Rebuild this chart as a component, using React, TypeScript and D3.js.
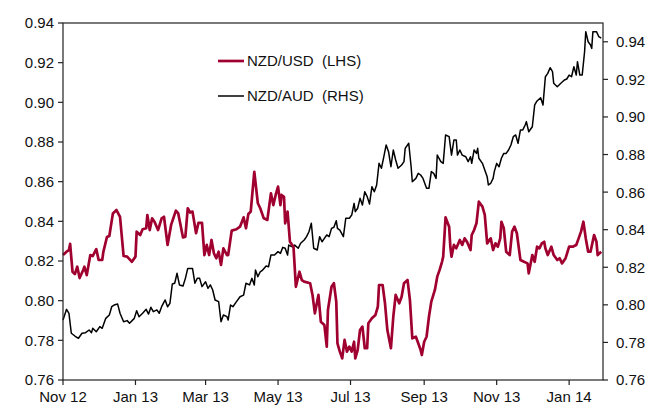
import React from "react";
import * as d3 from "d3";

// Days counted from 1 Nov 2012
const startDate = new Date(2012, 10, 1);
const endDay = 454.5;

const nzdUsd: [number, number][] = [
  [0, 0.823], [3, 0.8247], [5, 0.8255], [6, 0.8286], [8, 0.8146], [10, 0.8134], [12, 0.8171], [14, 0.8114],
  [17, 0.8155], [18, 0.8171], [20, 0.8129], [23, 0.823], [25, 0.8225], [28, 0.826], [30, 0.8205], [33, 0.8205],
  [34, 0.8247], [37, 0.8321], [39, 0.8326], [42, 0.844], [45, 0.8457], [48, 0.8423], [51, 0.8225], [54, 0.8222],
  [58, 0.8196], [61, 0.8222], [62, 0.8348], [65, 0.8331], [67, 0.836], [70, 0.8365], [71, 0.8432], [73, 0.8356],
  [75, 0.8415], [77, 0.8398], [80, 0.8356], [83, 0.8415], [85, 0.8423], [88, 0.8281], [91, 0.8382], [95, 0.8454],
  [97, 0.844], [101, 0.8319], [103, 0.8323], [105, 0.8466], [107, 0.8444], [109, 0.8449], [112, 0.834], [114, 0.8392],
  [117, 0.8392], [119, 0.823], [121, 0.8281], [123, 0.823], [125, 0.8306], [127, 0.8239], [129, 0.8214], [131, 0.8247],
  [133, 0.818], [135, 0.8264], [138, 0.823], [139, 0.823], [142, 0.8353], [146, 0.836], [149, 0.8373], [152, 0.842],
  [154, 0.8365], [156, 0.8437], [158, 0.8449], [161, 0.865], [164, 0.8491], [166, 0.8466], [169, 0.8415], [172, 0.8407],
  [175, 0.8541], [177, 0.8482], [179, 0.8533], [181, 0.8575], [183, 0.8482], [184, 0.8533], [186, 0.8524], [187, 0.839],
  [189, 0.8449], [191, 0.8297], [194, 0.8272], [196, 0.807], [199, 0.8146], [201, 0.8104], [203, 0.8096], [208, 0.8088],
  [210, 0.8029], [212, 0.7936], [215, 0.8029], [217, 0.7894], [220, 0.7877], [222, 0.7768], [223, 0.7953], [226, 0.807],
  [228, 0.8088], [230, 0.7995], [231, 0.7785], [233, 0.7743], [235, 0.7709], [237, 0.7802], [239, 0.7743], [241, 0.7768],
  [243, 0.7743], [245, 0.7793], [246, 0.7709], [248, 0.7751], [250, 0.7852], [252, 0.7869], [254, 0.776], [256, 0.776],
  [257, 0.7886], [260, 0.7911], [263, 0.7928], [265, 0.797], [266, 0.8079], [269, 0.8079], [271, 0.7987], [273, 0.7852],
  [276, 0.776], [278, 0.7919], [280, 0.8029], [283, 0.7987], [285, 0.802], [287, 0.8088], [290, 0.8104], [292, 0.8003],
  [294, 0.781], [297, 0.7818], [299, 0.7785], [301, 0.7751], [302, 0.7726], [304, 0.7793], [306, 0.7818], [308, 0.7919],
  [310, 0.7995], [313, 0.8054], [315, 0.8121], [317, 0.8155], [319, 0.8196], [320, 0.8222], [322, 0.842], [325, 0.8373],
  [326, 0.8272], [327, 0.8222], [329, 0.8281], [331, 0.8264], [334, 0.8306], [336, 0.8281], [338, 0.8314], [340, 0.8297],
  [343, 0.8255], [344, 0.8331], [346, 0.8356], [348, 0.839], [350, 0.8499], [353, 0.8474], [355, 0.8432], [357, 0.8289],
  [360, 0.8314], [362, 0.8255], [364, 0.8289], [366, 0.8272], [368, 0.8314], [369, 0.8398], [371, 0.8365], [373, 0.8247],
  [376, 0.823], [378, 0.8348], [380, 0.8373], [382, 0.834], [385, 0.8205], [388, 0.8196], [391, 0.8188], [392, 0.8138],
  [395, 0.823], [397, 0.8196], [399, 0.8272], [401, 0.8264], [403, 0.8289], [405, 0.8297], [406, 0.8264], [408, 0.823],
  [411, 0.8272], [413, 0.823], [416, 0.8205], [418, 0.8214], [420, 0.8188], [423, 0.8214], [426, 0.8272], [429, 0.8272],
  [432, 0.8281], [434, 0.8314], [436, 0.8348], [438, 0.8398], [440, 0.8314], [442, 0.8247], [444, 0.8247], [447, 0.8331],
  [449, 0.8297], [450, 0.823], [453, 0.8247],
];

const nzdAud: [number, number][] = [
  [0, 0.7919], [3, 0.7976], [5, 0.7955], [7, 0.7849], [10, 0.7834], [13, 0.7822], [16, 0.7849], [19, 0.7852],
  [22, 0.7866], [24, 0.7852], [25, 0.7875], [28, 0.7857], [31, 0.7884], [33, 0.7875], [36, 0.7928], [39, 0.7946],
  [41, 0.799], [43, 0.7999], [46, 0.8004], [48, 0.7955], [51, 0.791], [54, 0.7916], [56, 0.7902], [60, 0.7928],
  [62, 0.7969], [64, 0.7937], [67, 0.7955], [70, 0.7976], [72, 0.7951], [74, 0.7987], [76, 0.7964], [79, 0.7973],
  [81, 0.7955], [83, 0.799], [86, 0.8026], [88, 0.799], [90, 0.8008], [92, 0.8111], [94, 0.8115], [96, 0.8168],
  [98, 0.8106], [101, 0.81], [103, 0.8141], [105, 0.8194], [109, 0.8194], [111, 0.8115], [113, 0.8141], [115, 0.8141],
  [117, 0.8097], [120, 0.8123], [122, 0.8088], [124, 0.8106], [126, 0.8079], [128, 0.8026], [131, 0.8017], [133, 0.791],
  [135, 0.7946], [138, 0.7937], [139, 0.7919], [141, 0.7999], [143, 0.799], [146, 0.8017], [149, 0.8043], [152, 0.8052],
  [154, 0.8115], [157, 0.8106], [159, 0.8141], [161, 0.8106], [162, 0.8185], [164, 0.815], [166, 0.8176], [168, 0.8185],
  [171, 0.8207], [173, 0.8203], [175, 0.8265], [178, 0.8265], [181, 0.8283], [183, 0.8274], [185, 0.8306], [187, 0.8301],
  [189, 0.8265], [190, 0.8318], [193, 0.8309], [195, 0.8318], [198, 0.8301], [200, 0.8328], [203, 0.8345], [205, 0.8363],
  [207, 0.8389], [209, 0.8434], [211, 0.8301], [214, 0.8292], [216, 0.8363], [218, 0.8336], [220, 0.8354], [222, 0.8372],
  [224, 0.8363], [226, 0.8407], [228, 0.8413], [230, 0.8448], [231, 0.8407], [233, 0.8398], [236, 0.8363], [238, 0.8461],
  [241, 0.8461], [243, 0.8478], [245, 0.854], [246, 0.8496], [248, 0.8514], [250, 0.8567], [252, 0.8531], [254, 0.8602],
  [256, 0.8576], [258, 0.8537], [260, 0.8629], [262, 0.8602], [264, 0.8638], [266, 0.8753], [268, 0.8727], [270, 0.8788],
  [272, 0.8851], [274, 0.8815], [276, 0.8735], [278, 0.8824], [280, 0.8771], [282, 0.8727], [285, 0.8744], [287, 0.8762],
  [288, 0.8833], [291, 0.886], [293, 0.8735], [294, 0.8655], [297, 0.8673], [299, 0.87], [301, 0.8691], [303, 0.8673],
  [306, 0.862], [308, 0.862], [310, 0.8709], [312, 0.87], [314, 0.8673], [315, 0.8797], [318, 0.8762], [320, 0.8753],
  [322, 0.8904], [325, 0.8895], [327, 0.8797], [329, 0.8877], [331, 0.8877], [332, 0.8797], [334, 0.8824], [336, 0.8797],
  [339, 0.8788], [341, 0.8762], [343, 0.8788], [344, 0.8753], [346, 0.8824], [348, 0.8806], [349, 0.8833], [350, 0.878],
  [353, 0.8753], [355, 0.8718], [357, 0.8682], [358, 0.8638], [360, 0.8647], [362, 0.8673], [363, 0.8709], [365, 0.8753],
  [367, 0.8735], [369, 0.878], [371, 0.8806], [373, 0.8806], [375, 0.8824], [377, 0.8851], [379, 0.8895], [381, 0.8904],
  [383, 0.886], [385, 0.8931], [387, 0.8931], [389, 0.8957], [390, 0.8975], [392, 0.8921], [395, 0.8948], [397, 0.9064],
  [399, 0.9085], [402, 0.9102], [404, 0.9064], [406, 0.9214], [408, 0.9232], [410, 0.9262], [412, 0.9241], [413, 0.9179],
  [416, 0.9161], [419, 0.9179], [422, 0.9197], [424, 0.9202], [426, 0.9223], [428, 0.9214], [430, 0.9267], [432, 0.9223],
  [433, 0.9294], [435, 0.9223], [437, 0.9223], [439, 0.9347], [440, 0.9454], [442, 0.94], [444, 0.9383], [445, 0.9365],
  [446, 0.9454], [449, 0.9454], [451, 0.9427], [453, 0.9419],
];

const leftTicks = [0.76, 0.78, 0.8, 0.82, 0.84, 0.86, 0.88, 0.9, 0.92, 0.94];
const rightTicks = [0.76, 0.78, 0.8, 0.82, 0.84, 0.86, 0.88, 0.9, 0.92, 0.94];
const xTickMonths = ["2012-11", "2013-01", "2013-03", "2013-05", "2013-07", "2013-09", "2013-11", "2014-01"];
const seriesNames = ["NZD/USD  (LHS)", "NZD/AUD  (RHS)"];

const W = 651;
const H = 406;
const M = { left: 63, right: 48, top: 23, bottom: 26 };
const RED = "#A0002F";
const FONT = "'Liberation Sans', Arial, sans-serif";

export default function App() {
  const x = d3
    .scaleTime()
    .domain([startDate, d3.timeHour.offset(startDate, endDay * 24)])
    .range([M.left, W - M.right]);
  const yL = d3.scaleLinear().domain([0.76, 0.94]).range([H - M.bottom, M.top]);
  const yR = d3.scaleLinear().domain([0.76, 0.95]).range([H - M.bottom, M.top]);
  const toDate = (d: number) => d3.timeDay.offset(startDate, d);

  const lineL = d3
    .line<[number, number]>()
    .x((p) => x(toDate(p[0])))
    .y((p) => yL(p[1]));
  const lineR = d3
    .line<[number, number]>()
    .x((p) => x(toDate(p[0])))
    .y((p) => yR(p[1]));

  const x0 = M.left;
  const x1 = W - M.right;
  const y0 = H - M.bottom;
  const y1 = M.top;
  const fmt = d3.format(".2f");
  const monthFmt = d3.timeFormat("%b %y");
  const xTicks = xTickMonths.map((s) => {
    const [yy, mm] = s.split("-").map(Number);
    return new Date(yy, mm - 1, 1);
  });

  return (
    <div style={{ position: "fixed", left: 0, top: 0 }}>
      <svg width={W} height={H} style={{ display: "block", fontFamily: FONT }}>
        <rect x={0} y={0} width={W} height={H} fill="#fff" />
        <path d={lineR(nzdAud) || ""} fill="none" stroke="#000" strokeWidth={1.5} strokeLinejoin="round" />
        <path d={lineL(nzdUsd) || ""} fill="none" stroke={RED} strokeWidth={2.7} strokeLinejoin="round" />
        {/* frame */}
        <rect x={x0} y={y1} width={x1 - x0} height={y0 - y1} fill="none" stroke="#222" strokeWidth={1.2} />
        {leftTicks.map((t) => (
          <g key={"l" + t}>
            <line x1={x0 - 5} x2={x0} y1={yL(t)} y2={yL(t)} stroke="#222" strokeWidth={1.2} />
            <text x={x0 - 9} y={yL(t)} dy="0.36em" textAnchor="end" fontSize={15} fill="#111">
              {fmt(t)}
            </text>
          </g>
        ))}
        {rightTicks.map((t) => (
          <g key={"r" + t}>
            <line x1={x1} x2={x1 + 5} y1={yR(t)} y2={yR(t)} stroke="#222" strokeWidth={1.2} />
            <text x={x1 + 13} y={yR(t)} dy="0.36em" textAnchor="start" fontSize={15} fill="#111">
              {fmt(t)}
            </text>
          </g>
        ))}
        {xTicks.map((t, i) => (
          <g key={"x" + i}>
            <line x1={x(t)} x2={x(t)} y1={y0} y2={y0 + 5} stroke="#222" strokeWidth={1.2} />
            <text x={x(t)} y={y0 + 22} textAnchor="middle" fontSize={15} fill="#111">
              {monthFmt(t)}
            </text>
          </g>
        ))}
        {/* legend */}
        <line x1={218} x2={244} y1={61} y2={61} stroke={RED} strokeWidth={2.7} />
        <text x={247} y={61} dy="0.36em" fontSize={15} fill="#111" style={{ whiteSpace: "pre" }}>
          {seriesNames[0]}
        </text>
        <line x1={218} x2={244} y1={96} y2={96} stroke="#000" strokeWidth={1.5} />
        <text x={247} y={96} dy="0.36em" fontSize={15} fill="#111" style={{ whiteSpace: "pre" }}>
          {seriesNames[1]}
        </text>
      </svg>
    </div>
  );
}
